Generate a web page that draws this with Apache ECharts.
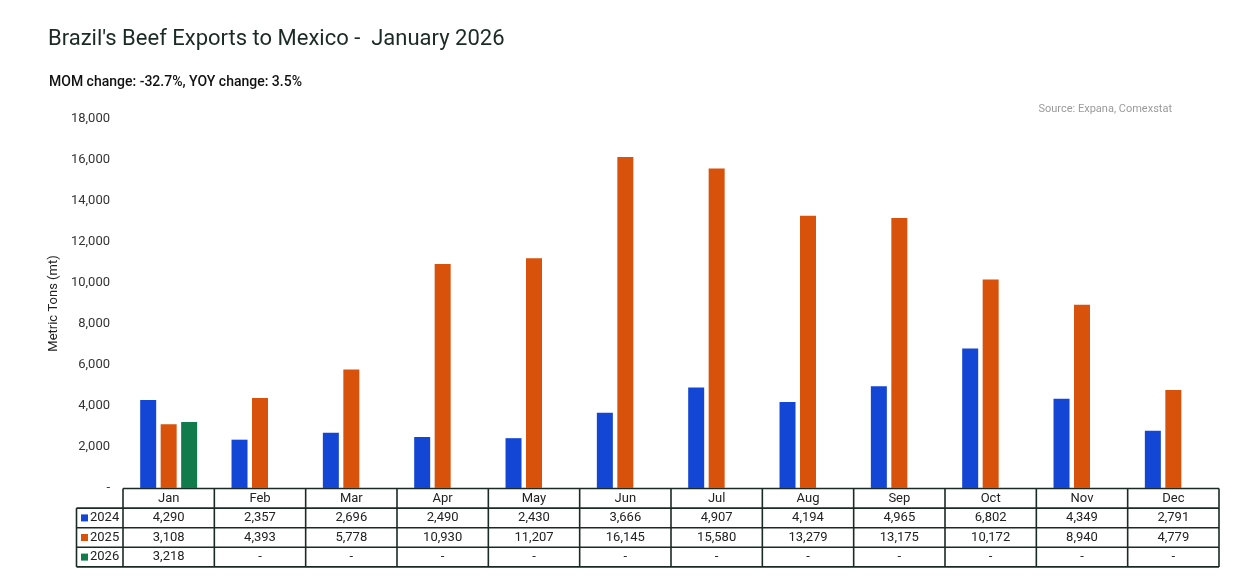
<!DOCTYPE html>
<html>
<head>
<meta charset="utf-8">
<script src="https://cdn.jsdelivr.net/npm/echarts@6/dist/echarts.min.js"></script>
<style>html,body{margin:0;padding:0;background:#fff}#c{width:1238px;height:579px}</style>
</head>
<body>
<div id="c"></div>
<script>
const months = ['Jan','Feb','Mar','Apr','May','Jun','Jul','Aug','Sep','Oct','Nov','Dec'];
const seriesNames = ['2024','2025','2026'];
const v2024 = [4290,2357,2696,2490,2430,3666,4907,4194,4965,6802,4349,2791];
const v2025 = [3108,4393,5778,10930,11207,16145,15580,13279,13175,10172,8940,4779];
const v2026 = [3218,null,null,null,null,null,null,null,null,null,null,null];
const colors = ['#1446d6','#d9520b','#127b4c'];
const titleText = "Brazil's Beef Exports to Mexico -  January 2026";
const subText = 'MOM change: -32.7%, YOY change: 3.5%';
const sourceText = 'Source: Expana, Comexstat';
const yAxisName = 'Metric Tons (mt)';

(function () {
const FONT = 'Roboto, "Noto Sans", sans-serif';
const dark = '#1b2a25';
const chart = echarts.init(document.getElementById('c'), null, {renderer:'canvas'});
const allSeries = [v2024, v2025, v2026];
const fmt = v => (v === null || v === undefined) ? '-' : v.toLocaleString('en-US');

const option = {
  animation: false,
  backgroundColor: '#fff',
  textStyle: {fontFamily: FONT},
  title: [
    {text: titleText, left: 43, top: 23, textStyle: {fontFamily: FONT, fontSize: 22, fontWeight: 'normal', color: dark}},
    {text: subText, left: 44, top: 70, textStyle: {fontFamily: FONT, fontSize: 14, fontWeight: 500, color: '#111'}},
    {text: sourceText, right: 61, top: 99, textStyle: {fontFamily: FONT, fontSize: 11, fontWeight: 'normal', color: '#9a9a9a'}}
  ],
  grid: {left: 123, right: 19, top: 119, bottom: 91, containLabel: false},
  xAxis: {
    type: 'category', data: months,
    axisLine: {show: false}, axisTick: {show: false}, axisLabel: {show: false}
  },
  yAxis: {
    type: 'value', min: 0, max: 18000, interval: 2000,
    name: yAxisName, nameLocation: 'middle', nameGap: 57, nameRotate: 90,
    nameTextStyle: {fontFamily: FONT, fontSize: 13, color: '#222'},
    axisLine: {show: false}, axisTick: {show: false}, splitLine: {show: false},
    axisLabel: {fontFamily: FONT, fontSize: 13, color: '#333', margin: 13,
      formatter: v => v === 0 ? '-' : v.toLocaleString('en-US')}
  },
  series: allSeries.map((d, i) => ({
    name: seriesNames[i], type: 'bar', data: d, barWidth: 16, barGap: '28%',
    itemStyle: {color: colors[i]}
  }))
};
chart.setOption(option);

// Build data table beneath the plot
const c0 = chart.convertToPixel({xAxisIndex: 0}, 0);
const c1 = chart.convertToPixel({xAxisIndex: 0}, 1);
const band = c1 - c0;
const tLeft = c0 - band / 2;
const tRight = tLeft + band * months.length;
const tTop = chart.convertToPixel({yAxisIndex: 0}, 0) + 0.5;
const rowH = 19.6;
const legLeft = 76.5;
const els = [];
const lineStyle = {stroke: dark, lineWidth: 1.6};
const hline = (x1, x2, y) => els.push({type: 'line', shape: {x1, y1: y, x2, y2: y}, style: lineStyle, silent: true});
const vline = (x, y1, y2) => els.push({type: 'line', shape: {x1: x, y1, x2: x, y2}, style: lineStyle, silent: true});
const txt = (x, y, t, align) => els.push({type: 'text', x, y, style: {text: t, fill: '#222', font: '13px ' + FONT, textAlign: align || 'center', textVerticalAlign: 'middle'}, silent: true});

const tBottom = tTop + rowH * 4;
hline(tLeft, tRight, tTop);
for (let r = 1; r <= 4; r++) hline(legLeft, tRight, tTop + rowH * r);
for (let k = 0; k <= months.length; k++) vline(tLeft + band * k, tTop, tBottom);
vline(legLeft, tTop + rowH, tBottom);

months.forEach((m, k) => txt(tLeft + band * (k + 0.5), tTop + rowH * 0.5, m));
allSeries.forEach((d, i) => {
  const cy = tTop + rowH * (i + 1.5);
  els.push({type: 'rect', shape: {x: 81, y: cy - 3.5, width: 7, height: 7}, style: {fill: colors[i]}, silent: true});
  txt(90, cy, seriesNames[i], 'left');
  d.forEach((v, k) => txt(tLeft + band * (k + 0.5), cy, fmt(v)));
});
chart.setOption({graphic: {elements: els}});
})();
</script>
</body>
</html>
